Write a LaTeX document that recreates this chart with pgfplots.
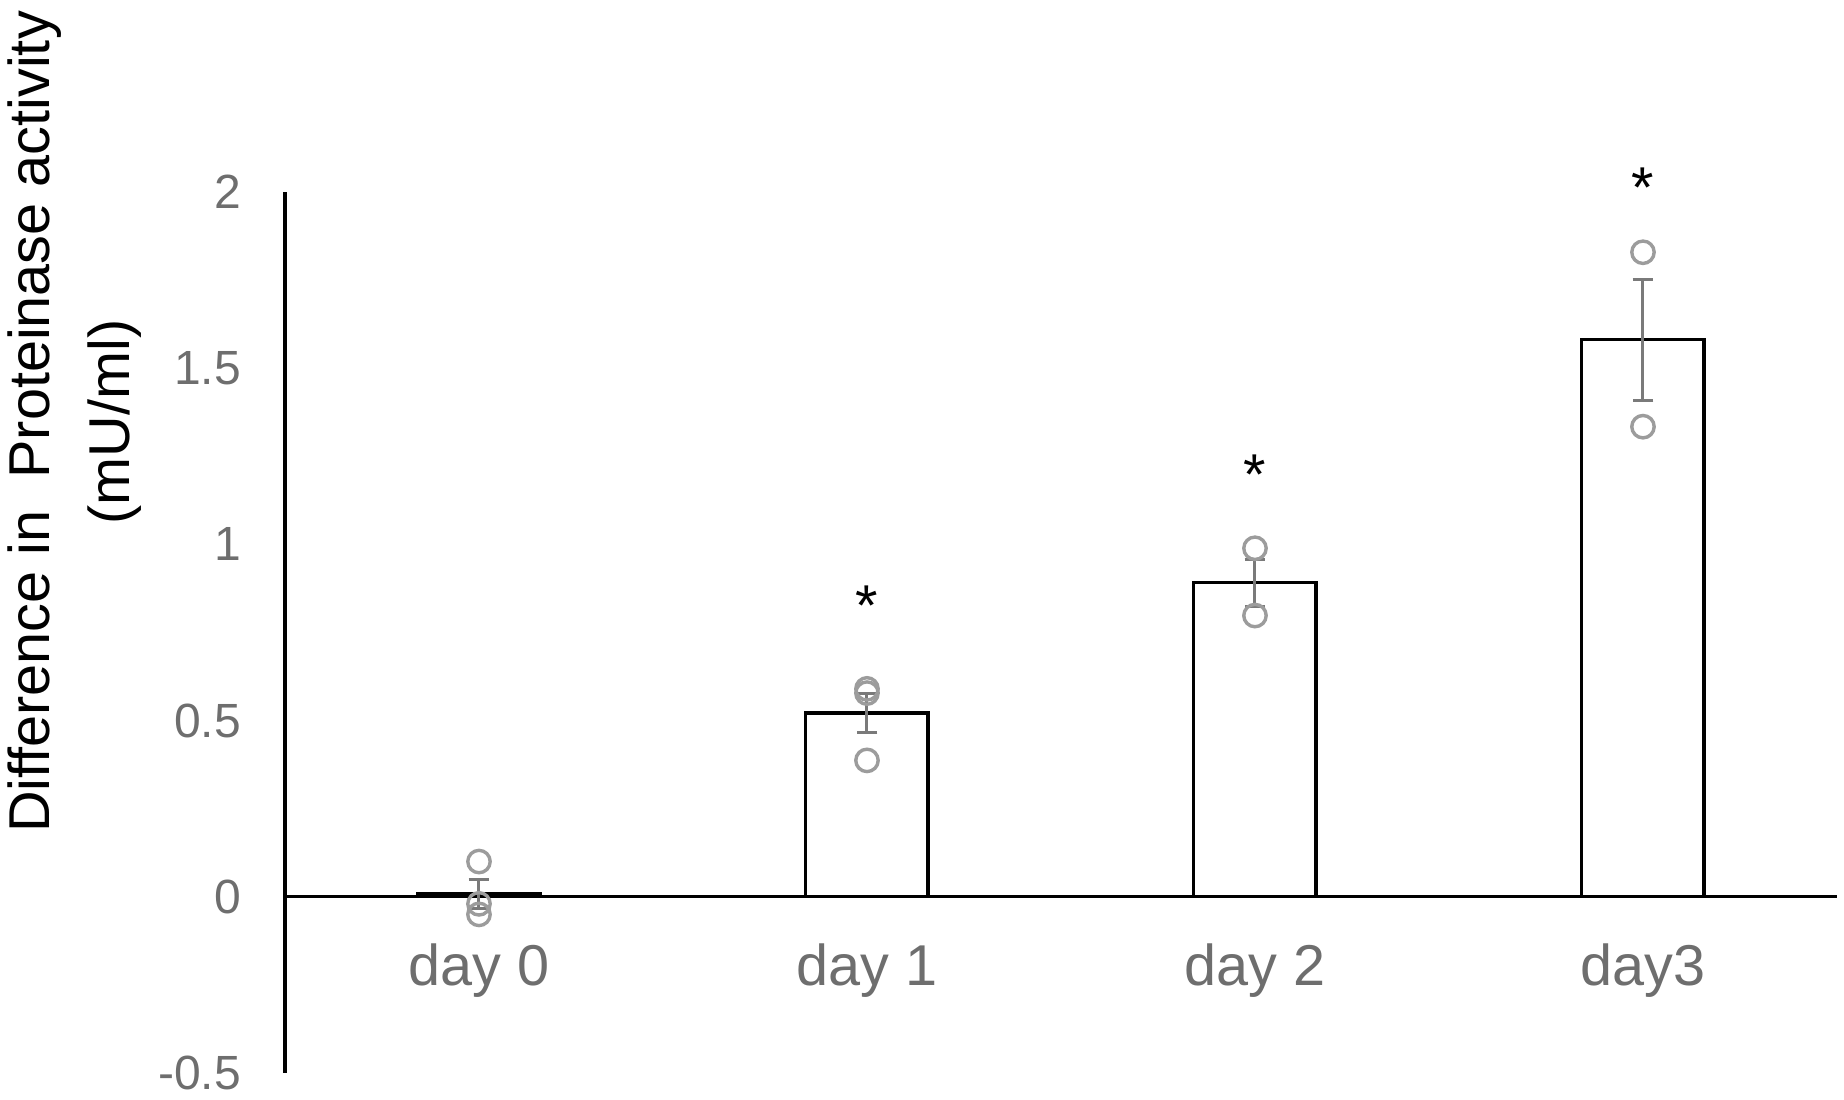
\documentclass[border=0pt]{standalone}
\usepackage{fontspec}
\setmainfont{Liberation Sans}
\usepackage{pgfplots}
\pgfplotsset{compat=1.18}
\definecolor{ticklab}{HTML}{6E6E6E}
\definecolor{ptc}{HTML}{9C9C9C}
\definecolor{ebc}{HTML}{7A7A7A}
\begin{document}
\begin{tikzpicture}
\begin{axis}[
  scale only axis, width=388pt, height=220.25pt,
  xmin=-0.5, xmax=3.5, ymin=-0.5, ymax=2,
  axis y line=left, axis x line=middle,
  axis line style={-, line width=0.8pt, black},
  hide obscured x ticks=false, hide obscured y ticks=false,
  major tick length=0pt,
  xtick={0,1,2,3}, xticklabels={day 0,day 1,day 2,day3},
  ytick={-0.5,0,0.5,1,1.5,2}, yticklabels={-0.5,0,0.5,1,1.5,2},
  xticklabel style={font=\fontsize{14.4}{17}\selectfont, text=ticklab, anchor=north, yshift=-8.2pt},
  yticklabel style={font=\fontsize{12}{14}\selectfont, text=ticklab, anchor=east, xshift=-7.5pt},
  ylabel={Difference in\ \ Proteinase activity\\(mU/ml)},
  ylabel style={font=\fontsize{14.4}{20}\selectfont, align=center, at={(axis description cs:-0.1353,0.739)}, anchor=center},
  clip=false,
]
\addplot[ybar, bar width=30.6pt, fill=white, draw=black, line width=0.85pt]
  coordinates {(0,0.008) (1,0.522) (2,0.891) (3,1.581)};
\addplot[draw=none, mark=none, forget plot,
  error bars/.cd, y dir=both, y explicit,
  error bar style={ebc, line width=0.75pt},
  error mark options={ebc, rotate=90, mark size=2.6pt, line width=0.75pt}]
  coordinates {(0,0.008) +- (0,0.04) (1,0.522) +- (0,0.055) (2,0.891) +- (0,0.066) (3,1.581) +- (0,0.172)};
\addplot[only marks, mark=o, mark size=2.8pt, mark options={ptc, line width=0.85pt}]
  coordinates {(0,0.1) (0,-0.02) (0,-0.05) (1,0.578) (1,0.59) (1,0.387) (2,0.989) (2,0.798) (3,1.829) (3,1.334)};
\addplot[only marks, mark=none, nodes near coords={*},
  nodes near coords style={anchor=center, font=\fontsize{14.4}{17}\selectfont, text=black, yshift=-3pt}]
  coordinates {(1,0.86) (2,1.233) (3,2.047)};
\end{axis}
\pgfresetboundingbox
\path (current axis.south west) ++(-71.25pt,-6.75pt) rectangle ++(461pt,275pt);
\end{tikzpicture}
\end{document}
